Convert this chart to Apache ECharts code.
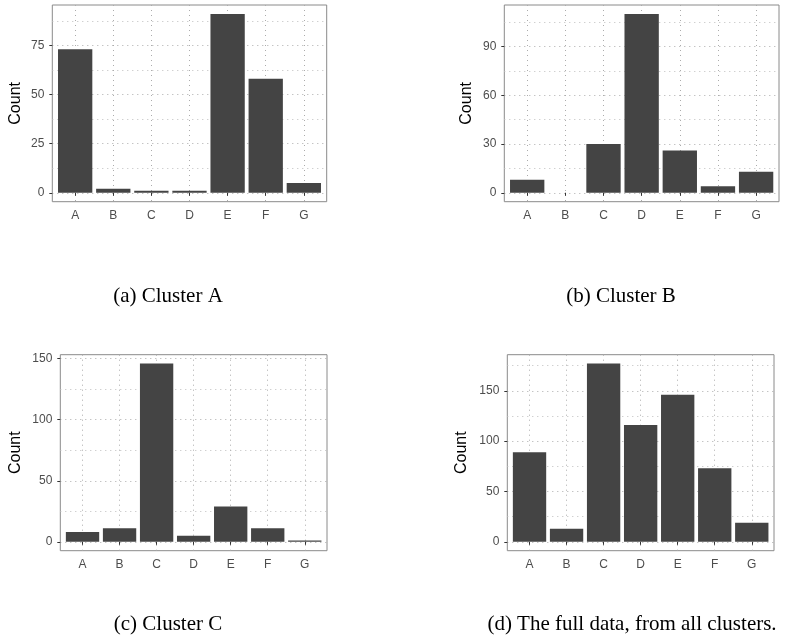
<!DOCTYPE html>
<html><head><meta charset="utf-8">
<script src="https://cdn.jsdelivr.net/npm/echarts@6/dist/echarts.min.js"></script>
<style>html,body{margin:0;padding:0;background:#fff}#c{width:796px;height:640px}</style>
</head><body><div id="c"></div>
<script>
const categories = ['A','B','C','D','E','F','G'];
const clusterA = [73, 2, 1, 1, 91, 58, 5];
const clusterB = [8, 0, 30, 110, 26, 4, 13];
const clusterC = [8, 11, 146, 5, 29, 11, 1];
const allClusters = [89, 13, 177, 116, 146, 73, 19];
const ticksA = [0, 25, 50, 75];
const minorA = [12.5, 37.5, 62.5, 87.5];
const ticksB = [0, 30, 60, 90];
const minorB = [15, 45, 75, 105];
const ticksC = [0, 50, 100, 150];
const minorC = [25, 75, 125];
const ticksD = [0, 50, 100, 150];
const minorD = [25, 75, 125, 175];
const captions = ['(a) Cluster A', '(b) Cluster B', '(c) Cluster C', '(d) The full data, from all clusters.'];
const yTitle = 'Count';

const panels = [
  {values: clusterA, ticks: ticksA, minor: minorA, box: {left: 52.3, top: 5, width: 274.4, height: 196.7}, nameGap: 29, cap: [168, 296]},
  {values: clusterB, ticks: ticksB, minor: minorB, box: {left: 504.3, top: 5, width: 274.7, height: 196.7}, nameGap: 30, cap: [621, 296]},
  {values: clusterC, ticks: ticksC, minor: minorC, box: {left: 60.3, top: 354.7, width: 266.7, height: 196}, nameGap: 37, cap: [168, 624]},
  {values: allClusters, ticks: ticksD, minor: minorD, box: {left: 507.3, top: 354.7, width: 266.7, height: 196}, nameGap: 37.5, cap: [632, 624]}
];

const sans = '"Liberation Sans", Arial, sans-serif';
const majorGrid = {show: true, lineStyle: {color: '#ababab', width: 1, type: [1, 4]}};
const minorGrid = {show: true, lineStyle: {color: '#bdbdbd', width: 1, type: [1, 4]}};
const catPos = categories.map((c, k) => k + 1);

const option = {
  animation: false,
  backgroundColor: '#ffffff',
  grid: panels.map(p => Object.assign({show: true, borderColor: '#8a8a8a', borderWidth: 1, backgroundColor: 'transparent', containLabel: false}, p.box)),
  xAxis: panels.map((p, i) => ({
    type: 'value', gridIndex: i, min: 0.4, max: 7.6,
    axisLine: {show: false},
    axisTick: {show: true, length: 3, lineStyle: {color: '#333333'}, customValues: catPos},
    axisLabel: {customValues: catPos, formatter: v => categories[Math.round(v) - 1] || '', margin: 8, fontSize: 12, color: '#4d4d4d', fontFamily: sans},
    splitLine: majorGrid
  })),
  yAxis: [].concat(...panels.map((p, i) => {
    const mx = Math.max(...p.values);
    const lo = -0.05 * mx, hi = 1.05 * mx;
    return [
      {
        type: 'value', gridIndex: i, min: lo, max: hi,
        name: yTitle, nameLocation: 'middle', nameGap: p.nameGap,
        nameTextStyle: {fontSize: 16, color: '#000', fontFamily: sans},
        axisLine: {show: false},
        axisTick: {show: true, length: 3, lineStyle: {color: '#333333'}, customValues: p.ticks},
        axisLabel: {customValues: p.ticks, margin: 8, fontSize: 12, color: '#4d4d4d', fontFamily: sans},
        splitLine: majorGrid
      },
      {
        type: 'value', gridIndex: i, min: lo, max: hi, position: 'right',
        axisLine: {show: false},
        axisTick: {show: false, customValues: p.minor},
        axisLabel: {show: false},
        splitLine: minorGrid
      }
    ];
  })),
  series: panels.map((p, i) => ({
    type: 'bar', xAxisIndex: i, yAxisIndex: 2 * i,
    barWidth: '90%',
    itemStyle: {color: '#444444'},
    data: p.values.map((v, k) => [k + 1, v])
  })),
  graphic: panels.map((p, i) => ({
    type: 'text', x: p.cap[0], y: p.cap[1],
    style: {text: captions[i], fontSize: 21, fontFamily: '"Liberation Serif", "DejaVu Serif", serif', fill: '#000', align: 'center', verticalAlign: 'middle'}
  }))
};
const chart = echarts.init(document.getElementById('c'), null, {renderer: 'canvas'});
chart.setOption(option);
</script>
</body></html>
